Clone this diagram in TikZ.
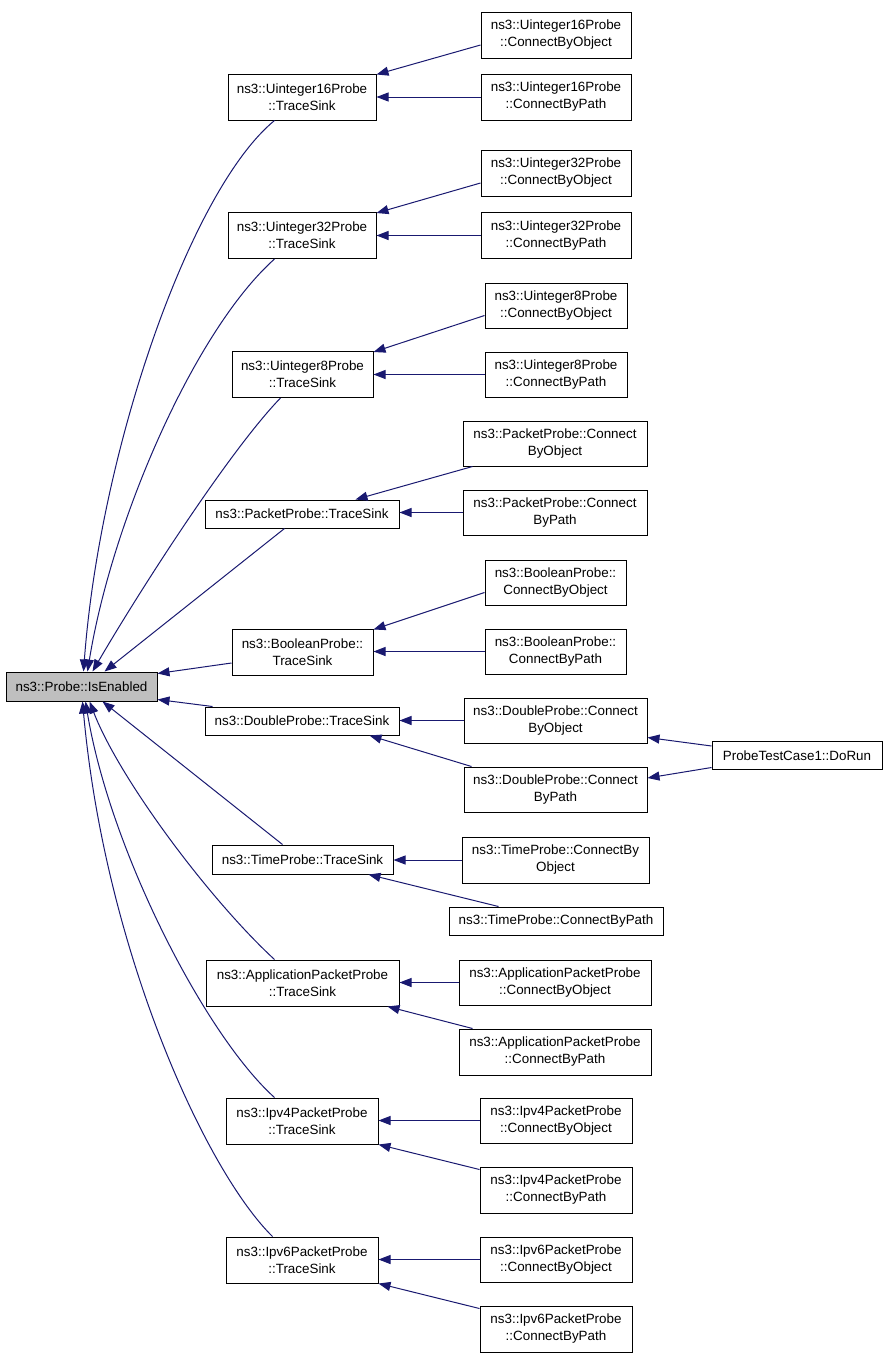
\documentclass[tikz,border=0pt]{standalone}
\usepackage{fontspec}
\setmainfont{Liberation Sans}
\usetikzlibrary{arrows.meta}
\definecolor{edgeblue}{HTML}{191970}
\definecolor{rootgray}{HTML}{BFBFBF}
\tikzset{
  box/.style={draw=black, line width=1pt, rectangle, inner sep=0pt, align=center,
    font=\fontsize{13.4}{17}\selectfont, fill=white},
  rootbox/.style={box, fill=rootgray},
  edge/.style={draw=edgeblue, line width=1pt, -{Triangle[length=12pt,width=9pt]}},
}
\begin{document}
\begin{tikzpicture}[x=1pt,y=-1pt]
\useasboundingbox (0,0) rectangle (888,1357);
% root
\node[rootbox, minimum width=151pt, minimum height=29pt] (root) at (81.5,686.5) {ns3::Probe::IsEnabled};
% level 1
\node[box, minimum width=148pt, minimum height=46pt] (u16ts) at (302,97) {ns3::Uinteger16Probe\\::TraceSink};
\node[box, minimum width=148pt, minimum height=46pt] (u32ts) at (302,235.5) {ns3::Uinteger32Probe\\::TraceSink};
\node[box, minimum width=141pt, minimum height=46pt] (u8ts) at (302.5,374.5) {ns3::Uinteger8Probe\\::TraceSink};
\node[box, minimum width=194pt, minimum height=28pt] (pkts) at (302,514) {ns3::PacketProbe::TraceSink};
\node[box, minimum width=141pt, minimum height=46pt] (bots) at (302.5,652) {ns3::BooleanProbe::\\TraceSink};
\node[box, minimum width=194pt, minimum height=28pt] (dbts) at (302,721) {ns3::DoubleProbe::TraceSink};
\node[box, minimum width=181pt, minimum height=29pt] (tmts) at (302.5,859.5) {ns3::TimeProbe::TraceSink};
\node[box, minimum width=193pt, minimum height=46pt] (apts) at (302.5,983) {ns3::ApplicationPacketProbe\\::TraceSink};
\node[box, minimum width=152pt, minimum height=46pt] (v4ts) at (302,1121) {ns3::Ipv4PacketProbe\\::TraceSink};
\node[box, minimum width=152pt, minimum height=46pt] (v6ts) at (302,1260) {ns3::Ipv6PacketProbe\\::TraceSink};
% level 2
\node[box, minimum width=150pt, minimum height=46pt] (u16o) at (556,35) {ns3::Uinteger16Probe\\::ConnectByObject};
\node[box, minimum width=150pt, minimum height=46pt] (u16p) at (556,97) {ns3::Uinteger16Probe\\::ConnectByPath};
\node[box, minimum width=150pt, minimum height=46pt] (u32o) at (556,173) {ns3::Uinteger32Probe\\::ConnectByObject};
\node[box, minimum width=150pt, minimum height=46pt] (u32p) at (556,235.5) {ns3::Uinteger32Probe\\::ConnectByPath};
\node[box, minimum width=142pt, minimum height=45pt] (u8o) at (556,305.5) {ns3::Uinteger8Probe\\::ConnectByObject};
\node[box, minimum width=142pt, minimum height=45pt] (u8p) at (556,374.5) {ns3::Uinteger8Probe\\::ConnectByPath};
\node[box, minimum width=184pt, minimum height=45pt] (pko) at (555,443.5) {ns3::PacketProbe::Connect\\ByObject};
\node[box, minimum width=184pt, minimum height=45pt] (pkp) at (555,512.5) {ns3::PacketProbe::Connect\\ByPath};
\node[box, minimum width=141pt, minimum height=45pt] (boo) at (555.5,582.5) {ns3::BooleanProbe::\\ConnectByObject};
\node[box, minimum width=141pt, minimum height=45pt] (bop) at (555.5,651.5) {ns3::BooleanProbe::\\ConnectByPath};
\node[box, minimum width=183pt, minimum height=45pt] (dbo) at (555.5,720.5) {ns3::DoubleProbe::Connect\\ByObject};
\node[box, minimum width=183pt, minimum height=45pt] (dbp) at (555.5,789.5) {ns3::DoubleProbe::Connect\\ByPath};
\node[box, minimum width=187pt, minimum height=46pt] (tmo) at (555.5,860) {ns3::TimeProbe::ConnectBy\\Object};
\node[box, minimum width=214pt, minimum height=28pt] (tmp) at (556,921) {ns3::TimeProbe::ConnectByPath};
\node[box, minimum width=192pt, minimum height=45pt] (apo) at (555,982.5) {ns3::ApplicationPacketProbe\\::ConnectByObject};
\node[box, minimum width=192pt, minimum height=46pt] (app) at (555,1052) {ns3::ApplicationPacketProbe\\::ConnectByPath};
\node[box, minimum width=152pt, minimum height=45pt] (v4o) at (556,1120.5) {ns3::Ipv4PacketProbe\\::ConnectByObject};
\node[box, minimum width=152pt, minimum height=46pt] (v4p) at (556,1190) {ns3::Ipv4PacketProbe\\::ConnectByPath};
\node[box, minimum width=152pt, minimum height=45pt] (v6o) at (556,1259.5) {ns3::Ipv6PacketProbe\\::ConnectByObject};
\node[box, minimum width=152pt, minimum height=46pt] (v6p) at (556,1329) {ns3::Ipv6PacketProbe\\::ConnectByPath};
% level 3
\node[box, minimum width=170pt, minimum height=28pt] (dorun) at (797,755.5) {ProbeTestCase1::DoRun};
% level 1 -> root
\draw[edge] ([xshift=47pt]u16ts.south west) .. controls (190,190) and (100,450) .. ([xshift=78pt]root.north west);
\draw[edge] ([xshift=47pt]u32ts.south west) .. controls (195,330) and (112,520) .. ([xshift=82pt]root.north west);
\draw[edge] ([xshift=49pt]u8ts.south west) .. controls (230,450) and (140,590) .. ([xshift=87pt]root.north west);
\draw[edge] ([xshift=80pt]pkts.south west) -- ([xshift=99pt]root.north west);
\draw[edge] ([yshift=-11pt]bots.west) -- ([yshift=-2pt]root.north east);
\draw[edge] ([xshift=8pt]dbts.north west) -- ([yshift=2pt]root.south east);
\draw[edge] ([xshift=71pt]tmts.north west) -- ([xshift=97pt]root.south west);
\draw[edge] ([xshift=69pt]apts.north west) .. controls (210,900) and (120,780) .. ([xshift=84pt]root.south west);
\draw[edge] ([xshift=49pt]v4ts.north west) .. controls (205,1035) and (110,850) .. ([xshift=80pt]root.south west);
\draw[edge] ([xshift=47pt]v6ts.north west) .. controls (205,1170) and (105,950) .. ([xshift=77pt]root.south west);
% level 2 -> level 1
\draw[edge] ([yshift=-10pt]u16o.west) -- ([yshift=-1pt]u16ts.north east);
\draw[edge] (u16p.west) -- (u16p.west -| u16ts.east);
\draw[edge] ([yshift=-10pt]u32o.west) -- ([yshift=-1pt]u32ts.north east);
\draw[edge] (u32p.west) -- (u32p.west -| u32ts.east);
\draw[edge] ([yshift=-10pt]u8o.west) -- ([yshift=-1pt]u8ts.north east);
\draw[edge] (u8p.west) -- (u8p.west -| u8ts.east);
\draw[edge] ([xshift=10pt]pko.south west) -- ([xshift=-44pt]pkts.north east);
\draw[edge] (pkp.west) -- (pkp.west -| pkts.east);
\draw[edge] ([yshift=-10pt]boo.west) -- ([yshift=-1pt]bots.north east);
\draw[edge] (bop.west) -- (bop.west -| bots.east);
\draw[edge] (dbo.west) -- (dbo.west -| dbts.east);
\draw[edge] ([xshift=8pt]dbp.north west) -- ([xshift=-30pt]dbts.south east);
\draw[edge] (tmo.west) -- (tmo.west -| tmts.east);
\draw[edge] ([xshift=50pt]tmp.north west) -- ([xshift=-25pt]tmts.south east);
\draw[edge] (apo.west) -- (apo.west -| apts.east);
\draw[edge] ([xshift=14pt]app.north west) -- ([xshift=-12pt]apts.south east);
\draw[edge] (v4o.west) -- (v4o.west -| v4ts.east);
\draw[edge] ([yshift=-3pt]v4p.north west) -- (v4ts.south east);
\draw[edge] (v6o.west) -- (v6o.west -| v6ts.east);
\draw[edge] ([yshift=-3pt]v6p.north west) -- (v6ts.south east);
% level 3 -> level 2
\draw[edge] ([yshift=9.5pt]dorun.west) -- ([yshift=6pt]dbo.south east);
\draw[edge] ([yshift=-12pt]dorun.west) -- ([yshift=11.5pt]dbp.east);
\end{tikzpicture}
\end{document}
